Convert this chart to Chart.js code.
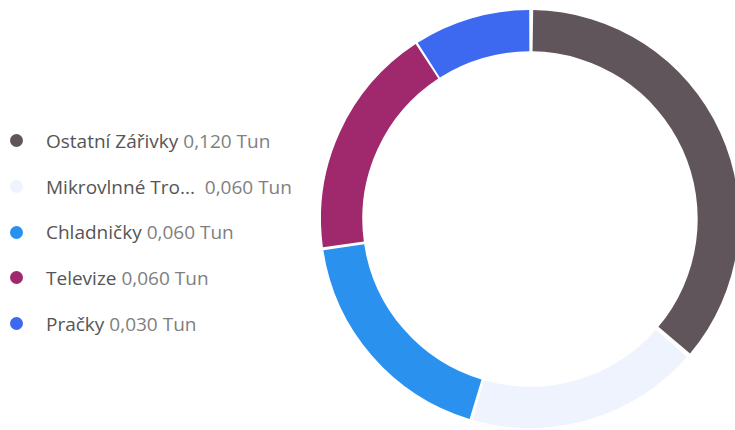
<!DOCTYPE html>
<html>
<head>
<meta charset="utf-8">
<script src="https://cdn.jsdelivr.net/npm/chart.js@4"></script>
<style>
  html, body { margin: 0; padding: 0; background: #fff; overflow: hidden; }
  #wrap { position: relative; width: 735px; height: 430px; overflow: hidden; }
  #legend { position: absolute; left: 10px; top: 118px; font-family: "Open Sans", sans-serif; font-size: 19px; }
  .row { height: 45.7px; display: flex; align-items: center; white-space: pre; }
  .dot { width: 13px; height: 13px; border-radius: 50%; margin-right: 23px; }
  .lbl { color: #555; }
  .val { color: #808080; margin-left: 5px; }
  #box { position: absolute; left: 321px; top: 10px; width: 418px; height: 418px; }
</style>
</head>
<body>
<div id="wrap">
  <div id="legend"></div>
  <div id="box"><canvas id="donut"></canvas></div>
</div>
<script>
const labels = ["Ostatní Zářivky", "Mikrovlnné Trouby", "Chladničky", "Televize", "Pračky"];
const values = [0.12, 0.06, 0.06, 0.06, 0.03];
const colors = ["#60555b", "#eef3fd", "#2a91ee", "#a0286c", "#3d68f0"];

// legend on the left, built from the same arrays
const legend = document.getElementById("legend");
labels.forEach((name, i) => {
  const shown = name.length > 15 ? name.slice(0, 14) + "... " : name;
  const row = document.createElement("div");
  row.className = "row";
  row.innerHTML =
    '<span class="dot" style="background:' + colors[i] + '"></span>' +
    '<span class="lbl">' + shown + '</span>' +
    '<span class="val">' + values[i].toFixed(3).replace(".", ",") + ' Tun</span>';
  legend.appendChild(row);
});

const ctx = document.getElementById("donut").getContext("2d");
new Chart(ctx, {
  type: "doughnut",
  data: {
    labels: labels,
    datasets: [
      {
        data: values,
        backgroundColor: colors,
        borderWidth: 0,
        spacing: 5,
      },
    ],
  },
  options: {
    responsive: true,
    maintainAspectRatio: false,
    animation: false,
    cutout: "80%",
    layout: { padding: 0 },
    plugins: {
      legend: { display: false },
      tooltip: { enabled: false },
    },
  },
});
</script>
</body>
</html>
